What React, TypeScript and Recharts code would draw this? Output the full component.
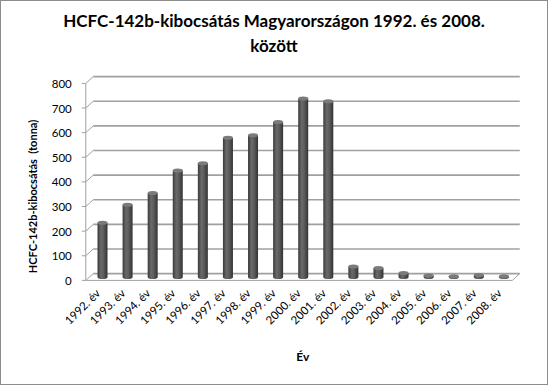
import { BarChart, Bar, XAxis, YAxis, CartesianGrid, ReferenceLine, Label } from "recharts";

const years = [
  "1992. év", "1993. év", "1994. év", "1995. év", "1996. év", "1997. év",
  "1998. év", "1999. év", "2000. év", "2001. év", "2002. év", "2003. év",
  "2004. év", "2005. év", "2006. év", "2007. év", "2008. év",
];
const emissions = [220, 293, 341, 432, 462, 565, 576, 629, 725, 714, 43, 37, 16, 6, 3, 8, 3];
const yTicks = [0, 100, 200, 300, 400, 500, 600, 700, 800];

const title = ["HCFC-142b-kibocsátás Magyarországon 1992. és 2008.", "között"];
const yTitle = "HCFC-142b-kibocsátás  (tonna)";
const xTitle = "Év";

// fél mélység a 3D hatáshoz (elülső / hátsó sík eltolása)
const DX = 3.75;
const DY = 3.4;
const FONT = "Lato, 'Liberation Sans', sans-serif";
const LINE = "#a0a0a0";

const data = years.map((year, i) => ({ year, value: emissions[i] }));

function Cylinder(props: any) {
  const { x, y, width, height } = props;
  if (width == null || height == null) return null;
  const rx = width / 2;
  const ry = 2;
  const bottom = y + height;
  return (
    <g>
      <path
        d={`M${x},${y} L${x},${bottom} A${rx},${ry} 0 0 0 ${x + width},${bottom} L${x + width},${y} Z`}
        fill="url(#cylBody)"
      />
      <ellipse cx={x + rx} cy={y} rx={rx} ry={ry} fill="#7b7b7b" />
    </g>
  );
}

function GridLine(props: any) {
  const { x1, x2, y1 } = props;
  return (
    <g>
      <line x1={x1 + DX} y1={y1 - DY} x2={x2 + DX} y2={y1 - DY} stroke={LINE} strokeWidth={1.6} />
      <line x1={x1 - DX} y1={y1 + DY} x2={x1 + DX} y2={y1 - DY} stroke={LINE} strokeWidth={1} />
      <line x1={x1 - DX - 4} y1={y1 + DY} x2={x1 - DX} y2={y1 + DY} stroke={LINE} strokeWidth={1} />
    </g>
  );
}

function Floor(props: any) {
  const { x1, x2, y1 } = props;
  return (
    <g>
      <line x1={x1 - DX} y1={y1 + DY} x2={x2 - DX} y2={y1 + DY} stroke={LINE} strokeWidth={1} />
      <line x1={x2 - DX} y1={y1 + DY} x2={x2 + DX} y2={y1 - DY} stroke={LINE} strokeWidth={1} />
    </g>
  );
}

function YTick(props: any) {
  const { x, y, payload } = props;
  return (
    <text x={x - DX} y={y + DY} textAnchor="end" dominantBaseline="central" fontFamily={FONT} fontSize={11.5} fill="#000">
      {payload.value}
    </text>
  );
}

function XTick(props: any) {
  const { x, y, payload } = props;
  const tx = x - 1;
  const ty = y + 17;
  return (
    <text x={tx} y={ty} textAnchor="end" transform={`rotate(-45 ${tx} ${ty})`} fontFamily={FONT} fontSize={11.5} fill="#000">
      {payload.value}
    </text>
  );
}

export default function App() {
  return (
    <div style={{ position: "absolute", left: 0, top: 0, width: 548, height: 385, background: "#fff" }}>
      <div
        style={{
          position: "absolute", left: 0, top: 8, width: 548, textAlign: "center",
          fontFamily: FONT, fontWeight: 700, fontSize: 17, lineHeight: "25px", color: "#000",
        }}
      >
        {title[0]}
        <br />
        {title[1]}
      </div>
      <BarChart
        width={548}
        height={385}
        data={data}
        margin={{ top: 80, right: 32, left: 39.5, bottom: 22 }}
        barCategoryGap={0}
      >
        <defs>
          <linearGradient id="cylBody" x1="0" y1="0" x2="1" y2="0">
            <stop offset="0%" stopColor="#3a3a3a" />
            <stop offset="35%" stopColor="#6a6a6a" />
            <stop offset="60%" stopColor="#5c5c5c" />
            <stop offset="100%" stopColor="#333" />
          </linearGradient>
        </defs>
        <CartesianGrid vertical={false} horizontal={(p: any) => <GridLine key={p.key} {...p} />} />
        <XAxis
          dataKey="year"
          axisLine={false}
          tickLine={false}
          tickSize={0}
          tickMargin={0}
          interval={0}
          height={86}
          tick={<XTick />}
        >
          <Label
            content={(p: any) => {
              const vb = p.viewBox;
              return (
                <text x={vb.x + vb.width / 2} y={vb.y + 84} textAnchor="middle" fontFamily={FONT} fontWeight={700} fontSize={12} fill="#000">
                  {xTitle}
                </text>
              );
            }}
          />
        </XAxis>
        <YAxis
          domain={[0, 800]}
          ticks={yTicks}
          width={50}
          tickSize={4}
          tickMargin={10}
          tickLine={false}
          axisLine={{ stroke: LINE, transform: `translate(${-DX},${DY})` }}
          tick={<YTick />}
        >
          <Label
            content={(p: any) => {
              const vb = p.viewBox;
              const cx = 32;
              const cy = vb.y + vb.height / 2 + 18;
              return (
                <text x={cx} y={cy} textAnchor="middle" dominantBaseline="central" transform={`rotate(-90 ${cx} ${cy})`} fontFamily={FONT} fontWeight={700} fontSize={11} fill="#000" style={{ whiteSpace: "pre" }}>
                  {yTitle}
                </text>
              );
            }}
          />
        </YAxis>
        <ReferenceLine y={0} shape={(p: any) => <Floor {...p} />} />
        <Bar dataKey="value" barSize={10} shape={<Cylinder />} isAnimationActive={false} />
      </BarChart>
      <div style={{ position: "absolute", left: 0, top: 0, width: 546, height: 383, border: "1px solid #8c8c8c", pointerEvents: "none" }} />
    </div>
  );
}
